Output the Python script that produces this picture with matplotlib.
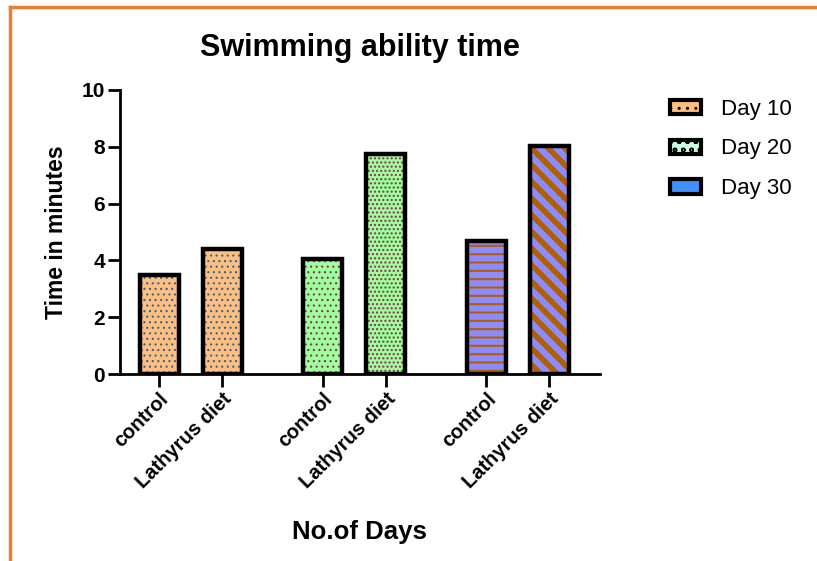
import matplotlib.pyplot as plt
from matplotlib.patches import Patch
from matplotlib.lines import Line2D

plt.rcParams["font.family"] = ["Liberation Sans", "DejaVu Sans"]

groups = ["Day 10", "Day 20", "Day 30"]
tick_labels = ["control", "Lathyrus diet"] * 3
values = [3.5, 4.4, 4.05, 7.75, 4.7, 8.03]
fill_colors = ["#FFC07F", "#FFC07F", "#9DFF9D", "#9DFF9D", "#8C8CFF", "#8C8CFF"]
hatch_colors = ["#3060A0", "#3060A0", "#8B3050", "#8B3050", "#B06000", "#B06000"]
hatches = ["...", "...", "...", "....", "--", "\\\\"]
hatch_widths = [0.8, 0.8, 0.8, 1.0, 1.5, 4.0]
positions = [0, 1, 2.6, 3.6, 5.2, 6.2]

fig = plt.figure(figsize=(8.17, 5.61), dpi=100)
ax = fig.add_axes([0.147, 0.333, 0.587, 0.507])

for x, v, fc, hc, h, hw in zip(positions, values, fill_colors, hatch_colors, hatches, hatch_widths):
    with plt.rc_context({"hatch.linewidth": hw}):
        ax.bar(x, v, width=0.62, color=fc, edgecolor=hc, hatch=h, linewidth=0, zorder=2)
    ax.bar(x, v, width=0.62, fill=False, edgecolor="black", linewidth=3.2, zorder=3)

ax.set_xlim(-0.62, 7.0)
ax.set_ylim(0, 10)
ax.set_yticks([0, 2, 4, 6, 8, 10])
ax.set_xticks(positions)
ax.set_xticklabels(tick_labels, rotation=45, ha="right", rotation_mode="anchor",
                   fontsize=14.5, fontweight="bold")
for lab in ax.get_yticklabels():
    lab.set_fontweight("bold")
    lab.set_fontsize(15)

ax.spines["top"].set_visible(False)
ax.spines["right"].set_visible(False)
ax.spines["left"].set_linewidth(2)
ax.spines["bottom"].set_linewidth(2)
ax.tick_params(axis="both", width=2, length=9, direction="out", pad=2)

ax.set_title("Swimming ability time", fontsize=22, fontweight="bold", pad=24)
ax.set_ylabel("Time in minutes", fontsize=16.5, fontweight="bold", labelpad=10)
ax.set_xlabel("No.of Days", fontsize=18.5, fontweight="bold", labelpad=20)

handles = [
    Patch(facecolor="#FFC07F", edgecolor="black", hatch="..", linewidth=3),
    Patch(facecolor="#C8FFE0", edgecolor="black", hatch="oo", linewidth=3),
    Patch(facecolor="#4090FF", edgecolor="black", linewidth=3),
]
fig.legend(handles, groups, loc="upper left", bbox_to_anchor=(0.796, 0.86),
           frameon=False, fontsize=16, handlelength=1.4, handleheight=0.6,
           labelspacing=0.85, handletextpad=0.9)

# orange frame around the figure
fig.add_artist(Line2D([10 / 817, 1], [1 - 7 / 561, 1 - 7 / 561], color="#ED7D31", linewidth=2.5))
fig.add_artist(Line2D([10 / 817, 10 / 817], [0, 1 - 7 / 561], color="#ED7D31", linewidth=2.5))

fig.savefig("out.png", dpi=100)
